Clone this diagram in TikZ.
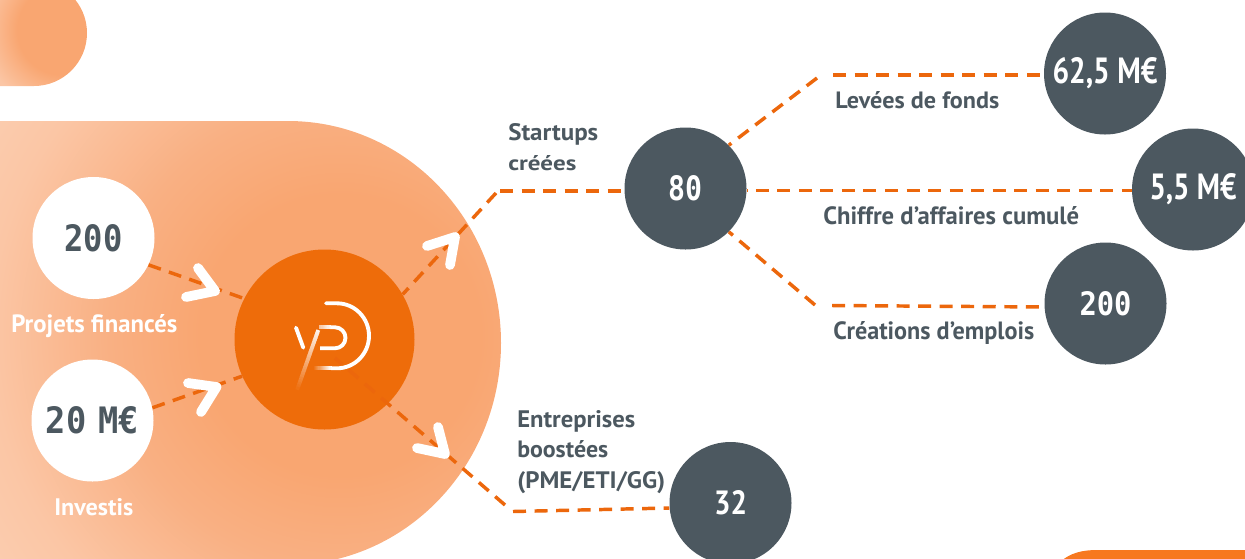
\documentclass[tikz,border=0pt]{standalone}
\usepackage{fontspec}
\setmainfont{PT Sans}
\newfontfamily\monof{DejaVu Sans Mono}
\definecolor{logoOrange}{HTML}{EE6C0A}
\definecolor{lineOrange}{HTML}{EC670C}
\definecolor{slate}{HTML}{4C5860}
\definecolor{peach}{HTML}{F9A671}
\definecolor{peachMid}{HTML}{F9B083}
\definecolor{peachPale}{HTML}{FBC6A5}
\definecolor{peachPaler}{HTML}{FBD0B4}
\definecolor{cornerOrange}{HTML}{F7781F}
\pgfdeclareradialshading{bigglow}{\pgfpoint{0bp}{0bp}}{color(0bp)=(peach); color(10bp)=(peach); color(16.5bp)=(peachMid); color(25bp)=(peachPale); color(32bp)=(peachPaler); color(50bp)=(peachPaler)}
\pgfdeclareradialshading{smallglow}{\pgfpoint{0bp}{0bp}}{color(0bp)=(peach); color(14bp)=(peach); color(25bp)=(peachPale); color(50bp)=(peachPale)}
\newcommand\fitbox[3]{\resizebox{\dimexpr #1pt*3/4\relax}{\dimexpr #2pt*3/4\relax}{#3}}
\tikzset{
  dashln/.style={draw=lineOrange,line width=2.6pt,dash pattern=on 9.75pt off 6.4pt},
  chevron/.style={draw=white,line width=7.3pt,line cap=round,line join=round},
  disc/.style={circle,inner sep=0pt,minimum size=91.5pt,fill=slate,text=white,font=\bfseries},
  whitedisc/.style={disc,fill=white,text=slate},
  caption/.style={inner sep=0pt,anchor=base west,text=slate,font=\bfseries},
  multicap/.style={inner sep=0pt,anchor=north west,align=left,text=slate,font=\fontsize{18}{23}\selectfont\bfseries},
  logostroke/.style={draw=white,line width=2.9pt,line cap=round,line join=round}
}
\begin{document}
\begin{tikzpicture}[x=0.75pt,y=-0.75pt]
\useasboundingbox (0,0) rectangle (1245,558);
\clip (0,0) rectangle (1245,558);
% background shapes
\begin{scope}
  \clip (-5,121) -- (288,121) arc[start angle=-90,end angle=90,x radius=213,y radius=222] -- (-5,565) -- cycle;
  \shade[shading=bigglow] (-10,-15) rectangle (690,685);
\end{scope}
\begin{scope}
  \clip (-5,-20) -- (34,-20) arc[start angle=-90,end angle=90,radius=53] -- (-5,86) -- cycle;
  \shade[shading=smallglow] (-18,-50) rectangle (142,110);
\end{scope}
\fill[cornerOrange] (1060,562) .. controls (1070,553) and (1082,550) .. (1097,550) -- (1250,550) -- (1250,562) -- cycle;
% nodes
\node[whitedisc] (n200) at (93.5,238) {\fitbox{58}{27}{\monof 200}};
\node[whitedisc] (n20) at (92.5,420.5) {\fitbox{93}{27}{\monof 20\hspace{-.25em} M€}};
\node[circle,inner sep=0pt,minimum size=135pt,fill=logoOrange] (logo) at (324.5,339.5) {};
\node[disc] (n80) at (685.5,188.5) {\fitbox{34}{25}{\monof 80}};
\node[disc] (n625) at (1105,73.5) {\fitbox{105}{26}{62,5 M€}};
\node[disc] (n55) at (1193,189.5) {\fitbox{87}{26}{5,5 M€}};
\node[disc] (nj200) at (1105.5,303.5) {\fitbox{52}{24}{\monof 200}};
\node[disc] (n32) at (730.5,503) {\fitbox{33}{24}{32}};
% free ends at the bends
\coordinate (bs1) at (496,193);
\coordinate (bs2) at (500,191);
\coordinate (be1) at (505,505);
\coordinate (be2) at (513,511.5);
\coordinate (bt1) at (817,78);
\coordinate (bt2) at (833,75);
\coordinate (bb1) at (815,305);
\coordinate (bb2) at (832,305.5);
\coordinate (le) at (335,358);
% connectors
\draw[dashln] (n200.-26) -- (logo.153);
\draw[dashln] (n20.12) -- (logo.204);
\draw[dashln] (bs1) -- (logo.30.5);
\draw[dashln] (bs2) -- (n80.west |- bs2);
\draw[dashln] (be1) -- (le);
\draw[dashln] (be2) -- (n32.west |- 0,508);
\draw[dashln] (bt1) -- (n80.45);
\draw[dashln] (bt2) -- (n625.west |- bt2);
\draw[dashln,dash phase=9.4pt] (n80.east |- 0,190.5) -- (n55.west |- 0,190.5);
\draw[dashln] (bb1) -- (n80.-45);
\draw[dashln] (bb2) -- (nj200.west |- 0,307);
% chevrons
\draw[chevron] (198,268) -- (215,291) -- (186,297);
\draw[chevron] (188,383) -- (216.5,387) -- (201,412);
\draw[chevron] (427,246) -- (455,237) -- (450,265);
\draw[chevron] (417,448) -- (445,454) -- (438,427);
% logo mark
\draw[logostroke] (296,327.7) -- (303.3,347.7);
\foreach \i in {0,...,23}{
  \pgfmathsetmacro\pa{\i/24}\pgfmathsetmacro\pb{(\i+1.2)/24}\pgfmathsetmacro\mix{92*(1-\i/24)}
  \draw[draw=white!\mix!logoOrange,line width=2.9pt] ({318.3-21*\pa},{330+59.3*\pa}) -- ({318.3-21*\pb},{330+59.3*\pb});
}
\draw[logostroke,line cap=butt] (330,327.3) -- (335,327.3) arc[start angle=-90,end angle=90,radius=10.5] -- (320,348.3);
\foreach \i in {0,...,9}{
  \pgfmathsetmacro\mix{60+4*\i}
  \draw[draw=white!\mix!logoOrange,line width=2.9pt] ({319+1.2*\i},327.3) -- ({320.4+1.2*\i},327.3);
}
\draw[logostroke] (331,368.3) -- (337,368.3) arc[start angle=90,end angle=-90,x radius=32,y radius=32.5] -- (326,303.3);
\foreach \i in {0,...,15}{
  \pgfmathsetmacro\mix{100*(\i+1)/16}
  \draw[draw=white!\mix!logoOrange,line width=2.9pt] ({314+1.1*\i},368.3) -- ({315.4+1.1*\i},368.3);
}
% captions
\node[caption,text=white] (tproj) at (11,332) {\fitbox{166}{18}{Projets financés}};
\node[caption,text=white] (tinv) at (54,515) {\fitbox{79}{17}{Investis}};
\node[multicap] (tstart) at (508,123) {\fitbox{90}{17}{Startups}\\\fitbox{68}{15}{créées}};
\node[multicap] (tent) at (517,410) {\fitbox{118}{17}{Entreprises}\\\fitbox{91}{17}{boostées}\\\fitbox{148}{17}{(PME/ETI/GG)}};
\node[caption] (tlev) at (835,108) {\fitbox{164}{17}{Levées de fonds}};
\node[caption] (tca) at (823,224) {\fitbox{256}{18}{Chiffre d’affaires cumulé}};
\node[caption] (tem) at (833,339) {\fitbox{201}{18}{Créations d’emplois}};
\end{tikzpicture}
\end{document}
